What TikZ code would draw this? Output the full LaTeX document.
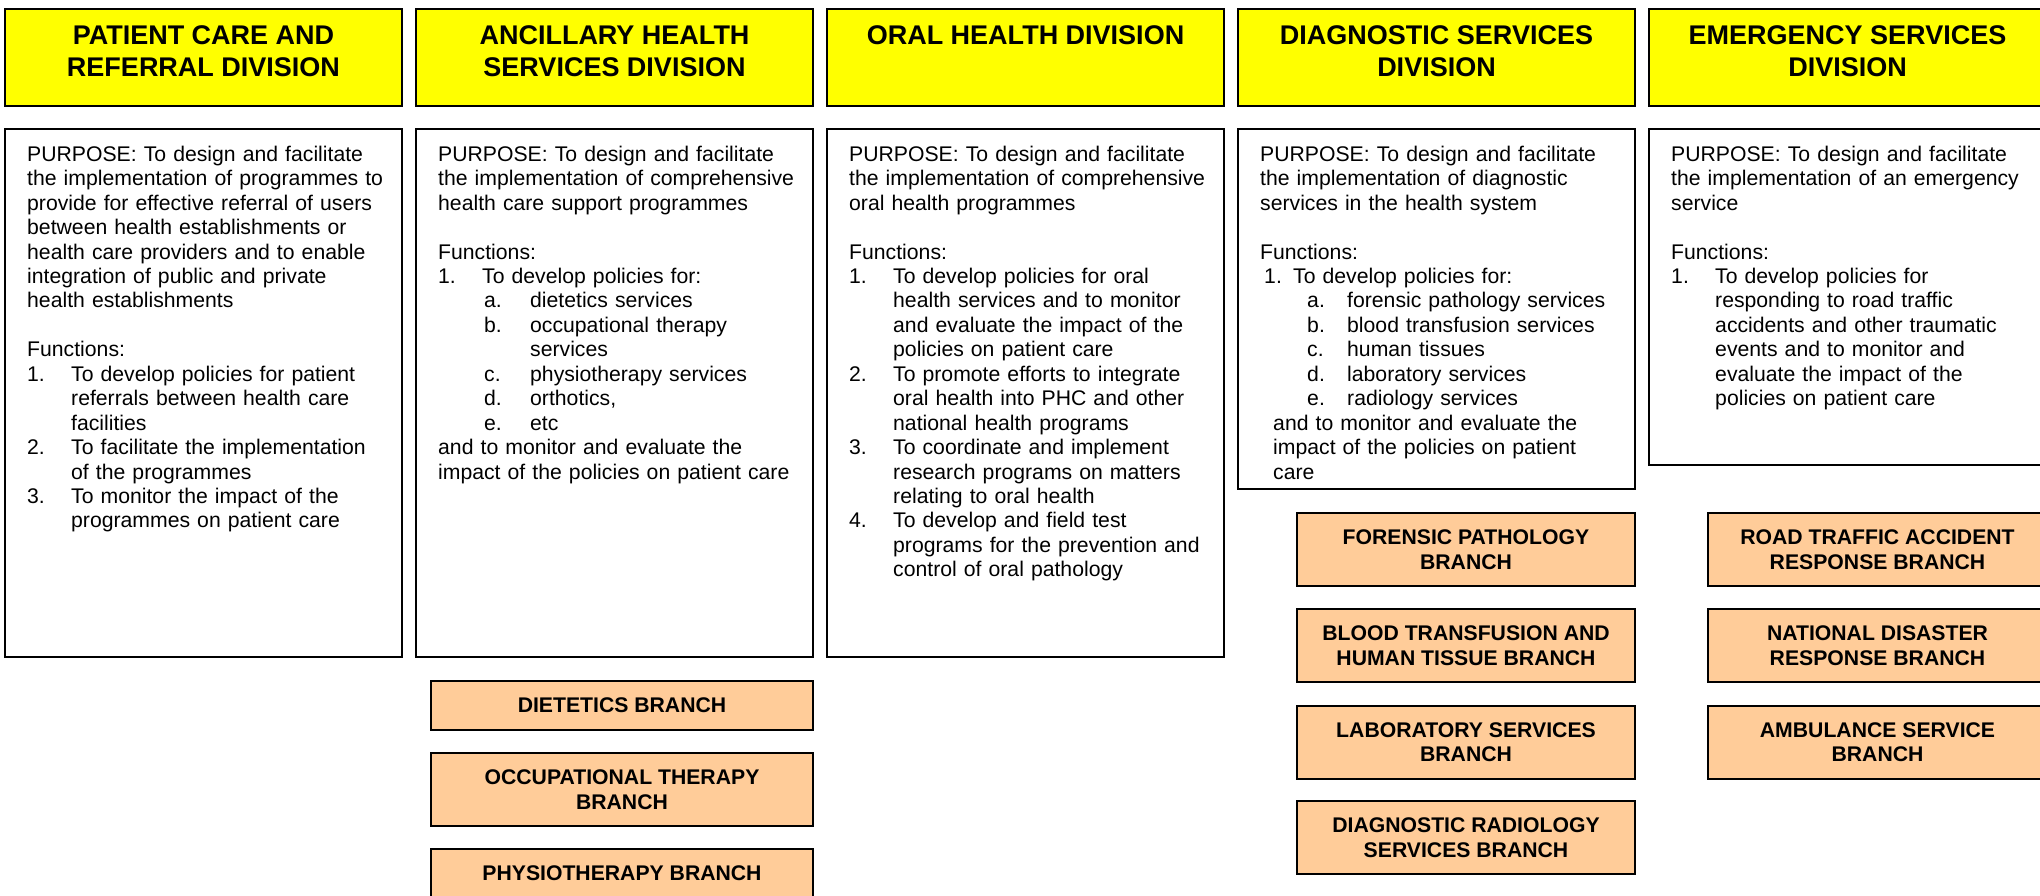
\documentclass[tikz,border=0pt]{standalone}
\usepackage{fontspec}
\setmainfont{Liberation Sans}
\newcommand\bodyfnt{\fontsize{21.2pt}{24.45pt}\selectfont}
\newcommand\titlefnt{\fontsize{27pt}{31.7pt}\selectfont\bfseries}
\newcommand\branchfnt{\fontsize{21.2pt}{24.6pt}\selectfont\bfseries}
\newcommand\lbl[2]{\makebox[#1][l]{#2}}
\definecolor{titleyellow}{HTML}{FFFF00}
\definecolor{branchpeach}{HTML}{FFCC99}
\begin{document}
\begin{tikzpicture}[x=1pt,y=-1pt,
  framebox/.style={draw=black, line width=2pt, inner sep=0pt, minimum width=397pt},
  titlebox/.style={framebox, fill=titleyellow, minimum height=97pt},
  infobox/.style={framebox, fill=white},
  titletext/.style={anchor=north, inner sep=0pt, align=center, font=\titlefnt},
  bodytext/.style={anchor=north west, inner sep=0pt, text width=372pt, align=left, font=\bodyfnt},
  branch/.style={draw=black, line width=2pt, fill=branchpeach, inner sep=0pt, align=center, font=\branchfnt}
]
\useasboundingbox (0,0) rectangle (2040,895);

% yellow division boxes
\node[titlebox] (y1) at (203.5,57.5) {};
\node[titlebox] (y2) at (614.5,57.5) {};
\node[titlebox] (y3) at (1025.5,57.5) {};
\node[titlebox] (y4) at (1436.5,57.5) {};
\node[titlebox] (y5) at (1847.5,57.5) {};

\node[titletext] (t1) at (203.5,22.1) {\strut PATIENT CARE AND\\REFERRAL DIVISION};
\node[titletext] (t2) at (614.5,22.1) {\strut ANCILLARY HEALTH\\SERVICES DIVISION};
\node[titletext] (t3) at (1025.5,22.1) {\strut ORAL HEALTH DIVISION};
\node[titletext] (t4) at (1436.5,22.1) {\strut DIAGNOSTIC SERVICES\\DIVISION};
\node[titletext] (t5) at (1847.5,22.1) {\strut EMERGENCY SERVICES\\DIVISION};

% white purpose boxes
\node[infobox, minimum height=528pt] (w1) at (203.5,393) {};
\node[infobox, minimum height=528pt] (w2) at (614.5,393) {};
\node[infobox, minimum height=528pt] (w3) at (1025.5,393) {};
\node[infobox, minimum height=360pt] (w4) at (1436.5,309) {};
\node[infobox, minimum height=336pt] (w5) at (1847.5,297) {};

\node[bodytext] (p1) at (27,143.9) {\strut PURPOSE: To design and facilitate\\
the implementation of programmes to\\
provide for effective referral of users\\
between health establishments or\\
health care providers and to enable\\
integration of public and private\\
health establishments\\[24.45pt]
Functions:\\
\lbl{44pt}{1.}To develop policies for patient\\
\hspace*{44pt}referrals between health care\\
\hspace*{44pt}facilities\\
\lbl{44pt}{2.}To facilitate the implementation\\
\hspace*{44pt}of the programmes\\
\lbl{44pt}{3.}To monitor the impact of the\\
\hspace*{44pt}programmes on patient care};

\node[bodytext] (p2) at (438,143.9) {\strut PURPOSE: To design and facilitate\\
the implementation of comprehensive\\
health care support programmes\\[24.45pt]
Functions:\\
\lbl{44pt}{1.}To develop policies for:\\
\hspace*{46pt}\lbl{46pt}{a.}dietetics services\\
\hspace*{46pt}\lbl{46pt}{b.}occupational therapy\\
\hspace*{92pt}services\\
\hspace*{46pt}\lbl{46pt}{c.}physiotherapy services\\
\hspace*{46pt}\lbl{46pt}{d.}orthotics,\\
\hspace*{46pt}\lbl{46pt}{e.}etc\\
and to monitor and evaluate the\\
impact of the policies on patient care};

\node[bodytext] (p3) at (849,143.9) {\strut PURPOSE: To design and facilitate\\
the implementation of comprehensive\\
oral health programmes\\[24.45pt]
Functions:\\
\lbl{44pt}{1.}To develop policies for oral\\
\hspace*{44pt}health services and to monitor\\
\hspace*{44pt}and evaluate the impact of the\\
\hspace*{44pt}policies on patient care\\
\lbl{44pt}{2.}To promote efforts to integrate\\
\hspace*{44pt}oral health into PHC and other\\
\hspace*{44pt}national health programs\\
\lbl{44pt}{3.}To coordinate and implement\\
\hspace*{44pt}research programs on matters\\
\hspace*{44pt}relating to oral health\\
\lbl{44pt}{4.}To develop and field test\\
\hspace*{44pt}programs for the prevention and\\
\hspace*{44pt}control of oral pathology};

\node[bodytext] (p4) at (1260,143.9) {\strut PURPOSE: To design and facilitate\\
the implementation of diagnostic\\
services in the health system\\[24.45pt]
Functions:\\
\hspace*{4pt}\lbl{29pt}{1.}To develop policies for:\\
\hspace*{47pt}\lbl{40pt}{a.}forensic pathology services\\
\hspace*{47pt}\lbl{40pt}{b.}blood transfusion services\\
\hspace*{47pt}\lbl{40pt}{c.}human tissues\\
\hspace*{47pt}\lbl{40pt}{d.}laboratory services\\
\hspace*{47pt}\lbl{40pt}{e.}radiology services\\
\hspace*{13pt}and to monitor and evaluate the\\
\hspace*{13pt}impact of the policies on patient\\
\hspace*{13pt}care};

\node[bodytext] (p5) at (1671,143.9) {\strut PURPOSE: To design and facilitate\\
the implementation of an emergency\\
service\\[24.45pt]
Functions:\\
\lbl{44pt}{1.}To develop policies for\\
\hspace*{44pt}responding to road traffic\\
\hspace*{44pt}accidents and other traumatic\\
\hspace*{44pt}events and to monitor and\\
\hspace*{44pt}evaluate the impact of the\\
\hspace*{44pt}policies on patient care};

% branches: ancillary
\node[branch, minimum width=382pt, minimum height=49pt] (b21) at (622,705.5) {DIETETICS BRANCH};
\node[branch, minimum width=382pt, minimum height=73pt] (b22) at (622,789.5) {OCCUPATIONAL THERAPY\\BRANCH};
\node[branch, minimum width=382pt, minimum height=49pt] (b23) at (622,873.5) {PHYSIOTHERAPY BRANCH};

% branches: diagnostic
\node[branch, minimum width=338pt, minimum height=73pt] (b41) at (1466,549.5) {FORENSIC PATHOLOGY\\BRANCH};
\node[branch, minimum width=338pt, minimum height=73pt] (b42) at (1466,645.5) {BLOOD TRANSFUSION AND\\HUMAN TISSUE BRANCH};
\node[branch, minimum width=338pt, minimum height=73pt] (b43) at (1466,742) {LABORATORY SERVICES\\BRANCH};
\node[branch, minimum width=338pt, minimum height=73pt] (b44) at (1466,837.5) {DIAGNOSTIC RADIOLOGY\\SERVICES BRANCH};

% branches: emergency
\node[branch, minimum width=339pt, minimum height=73pt] (b51) at (1877.5,549.5) {ROAD TRAFFIC ACCIDENT\\RESPONSE BRANCH};
\node[branch, minimum width=339pt, minimum height=73pt] (b52) at (1877.5,645.5) {NATIONAL DISASTER\\RESPONSE BRANCH};
\node[branch, minimum width=339pt, minimum height=73pt] (b53) at (1877.5,742) {AMBULANCE SERVICE\\BRANCH};
\end{tikzpicture}
\end{document}
